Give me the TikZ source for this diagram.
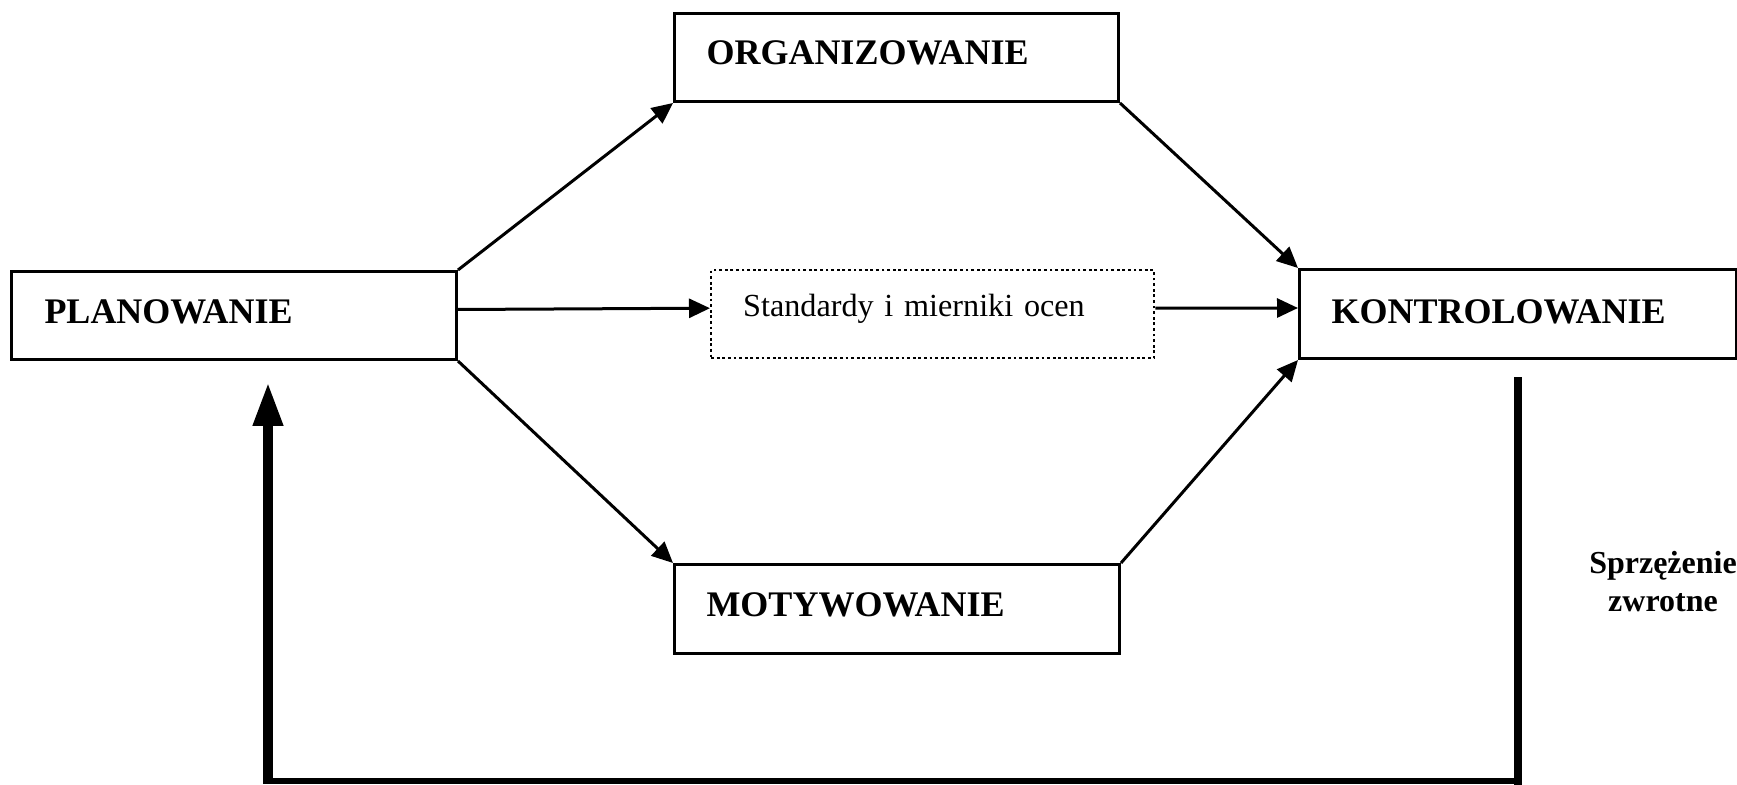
\documentclass[tikz,border=0pt]{standalone}
\usepackage{fontspec}
\setmainfont{Liberation Serif}
\usetikzlibrary{arrows.meta}
\begin{document}
\begin{tikzpicture}[x=0.5pt,y=-0.5pt,
  boxst/.style={draw, line width=1.5pt, inner ysep=0pt, inner xsep=16pt, align=left, anchor=north west,
    font=\bfseries\fontsize{18pt}{20pt}\selectfont},
  conn/.style={line width=1.5pt, -{Triangle[length=10.5pt,width=9.5pt]}},
  fbline/.style={line width=4pt}]
\useasboundingbox (0,0) rectangle (1737,785);
\node[boxst, text width=189.5pt, text height=26pt, text depth=18pt, inner xsep=16.5pt] (plan) at (10,270) {PLANOWANIE};
\node[boxst, text width=190pt, text height=25.5pt, text depth=18.5pt] (org) at (673,12) {ORGANIZOWANIE};
\node[boxst, text width=189.5pt, text height=23pt, text depth=21pt, line width=1.2pt, dash pattern=on 1.4pt off 1.4pt,
  font=\fontsize{16.1pt}{18pt}\selectfont] (std) at (710,269) {Standardy i mierniki ocen};
\node[boxst, text width=186.5pt, text height=27pt, text depth=17.5pt] (kon) at (1298,268) {KONTROLOWANIE};
\node[boxst, text width=190.5pt, text height=26pt, text depth=18.5pt] (mot) at (673,563) {MOTYWOWANIE};
\node[align=center, anchor=base, inner sep=0pt, font=\bfseries\fontsize{16pt}{19pt}\selectfont] (fb) at (1663,612) {Sprzężenie\\zwrotne};
\draw[conn] (plan.north east) -- (org.south west);
\draw[conn] ([yshift=3pt]plan.east) -- ([yshift=3pt]std.west);
\draw[conn] (plan.south east) -- (mot.north west);
\draw[conn] (org.south east) -- (kon.north west);
\draw[conn] ([yshift=3pt]std.east) -- ([yshift=3pt]kon.west);
\draw[conn] (mot.north east) -- (kon.south west);
\coordinate (fbtop) at ([yshift=-10.5pt]kon.south);
\coordinate (fbbot) at (fbtop |- 0,781);
\coordinate (fbleft) at (268,781);
\coordinate (fbtip) at (268,382);
\draw[fbline, line cap=rect] (fbtop) -- (fbbot);
\draw[line width=2.6pt] ([xshift=2pt]fbbot) -- ([xshift=-2.5pt]fbleft);
\draw[line width=5pt, line cap=rect, shorten <=1pt, -{Triangle[length=22pt,width=14pt]}] ([yshift=1.2pt]fbleft) -- (fbtip);
\end{tikzpicture}
\end{document}
